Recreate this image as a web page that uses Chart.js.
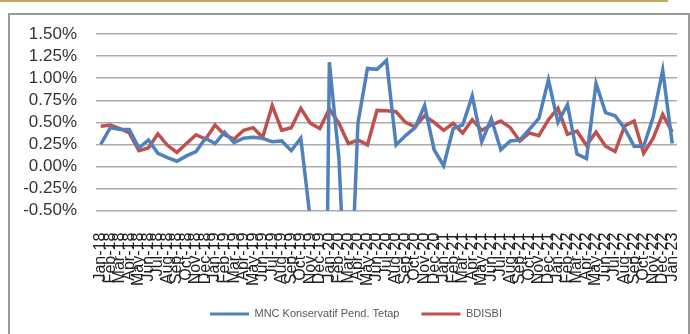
<!DOCTYPE html>
<html>
<head>
<meta charset="utf-8">
<script src="https://cdn.jsdelivr.net/npm/chart.js@4"></script>
<style>
  html, body { margin: 0; padding: 0; background: #fff; overflow: hidden; width: 690px; height: 334px; }
  #gold { position: absolute; left: 0; top: 0; width: 668px; height: 2px; background: #c8a862; }
  #frame { position: absolute; left: 8px; top: 13px; width: 682px; height: 340px; border: 2px solid #9a9a9a; box-sizing: border-box; }
  #wrap { position: absolute; left: 22px; top: 14px; width: 690px; height: 340px; }
</style>
</head>
<body>
<div id="gold"></div>
<div id="frame"></div>
<div id="wrap"><canvas id="grafica"></canvas></div>
<script>
const meses = ['Jan', 'Feb', 'Mar', 'Apr', 'May', 'Jun', 'Jul', 'Aug', 'Sep', 'Oct', 'Nov', 'Dec'];
const anios = ['18', '19', '20', '21', '22', '23'];

// Jan-18 .. Jan-23
const etiquetas = [];
anios.forEach(a => meses.forEach(m => etiquetas.push(m + '-' + a)));
etiquetas.length = 61;

const mnc = [
  0.25, 0.44, 0.42, 0.42, 0.21, 0.30, 0.15, 0.10, 0.06, 0.12, 0.17, 0.32,
  0.26, 0.39, 0.27, 0.32, 0.33, 0.32, 0.28, 0.29, 0.18, 0.32, -0.60, -8.0,
  1.18, 0.10, -2.2, 0.49, 1.11, 1.10, 1.20, 0.245, 0.35, 0.44, 0.69, 0.19,
  0.01, 0.43, 0.47, 0.80, 0.28, 0.54, 0.19, 0.29, 0.30, 0.42, 0.545, 0.98,
  0.50, 0.70, 0.14, 0.09, 0.94, 0.61, 0.575, 0.43, 0.23, 0.23, 0.56, 1.09,
  0.26
];

const bdisbi = [
  0.455, 0.47, 0.43, 0.38, 0.18, 0.21, 0.37, 0.24, 0.16, 0.26, 0.36, 0.31,
  0.47, 0.36, 0.31, 0.41, 0.44, 0.33, 0.69, 0.41, 0.44, 0.66, 0.49, 0.43,
  0.65, 0.49, 0.26, 0.30, 0.245, 0.635, 0.63, 0.62, 0.50, 0.45, 0.575, 0.50,
  0.41, 0.49, 0.38, 0.53, 0.41, 0.47, 0.515, 0.44, 0.29, 0.38, 0.35, 0.53,
  0.66, 0.365, 0.40, 0.24, 0.39, 0.23, 0.17, 0.46, 0.515, 0.15, 0.32, 0.59,
  0.39
];

const ctx = document.getElementById('grafica').getContext('2d');

new Chart(ctx, {
  type: 'line',
  data: {
    labels: etiquetas,
    datasets: [
      {
        label: 'MNC Konservatif Pend. Tetap',
        data: mnc,
        borderColor: '#4f81bd',
        backgroundColor: '#4f81bd',
        borderWidth: 3.5,
        pointRadius: 0,
        tension: 0
      },
      {
        label: 'BDISBI',
        data: bdisbi,
        borderColor: '#c0504d',
        backgroundColor: '#c0504d',
        borderWidth: 3.5,
        pointRadius: 0,
        tension: 0
      }
    ]
  },
  options: {
    responsive: true,
    maintainAspectRatio: false,
    animation: false,
    layout: { padding: { top: 20, right: 22, bottom: 24.5, left: 0 } },
    plugins: {
      tooltip: { enabled: false },
      legend: {
        position: 'bottom',
        labels: {
          boxWidth: 39,
          boxHeight: 3,
          padding: 22,
          color: '#595959',
          font: { family: 'Liberation Sans', size: 11 },
          generateLabels: chart => Chart.defaults.plugins.legend.labels.generateLabels(chart)
            .map(l => ({ ...l, lineWidth: 0, fillStyle: l.strokeStyle }))
        }
      }
    },
    scales: {
      x: {
        offset: true,
        grid: { display: false },
        border: { display: false },
        ticks: {
          autoSkip: false,
          minRotation: 90,
          maxRotation: 90,
          padding: 14,
          color: '#222',
          font: { family: 'Liberation Sans', size: 16 }
        },
        afterFit: s => { s.height = 75.8; s.paddingLeft = 0; s.paddingRight = 35; s.paddingTop = 0; s.paddingBottom = 0; }
      },
      y: {
        min: -0.5,
        max: 1.5,
        grid: { color: '#acacac', lineWidth: 1.5, drawTicks: false },
        border: { display: false },
        ticks: {
          stepSize: 0.25,
          autoSkip: false,
          padding: 19,
          color: '#333',
          font: { family: 'Liberation Sans', size: 17 },
          callback: v => v.toFixed(2) + '%'
        },
        afterFit: s => { s.width = 74; s.paddingTop = 0; s.paddingBottom = 0; s.paddingLeft = 0; s.paddingRight = 0; }
      }
    }
  }
});
</script>
</body>
</html>
